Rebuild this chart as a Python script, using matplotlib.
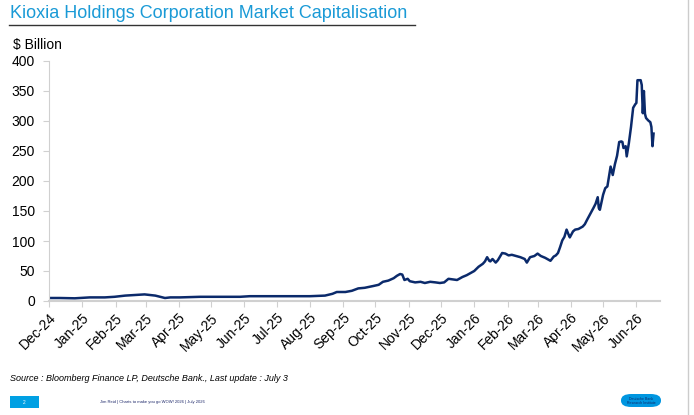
import matplotlib
matplotlib.use("Agg")
import matplotlib.pyplot as plt
from matplotlib.patches import FancyBboxPatch, Rectangle
from matplotlib.lines import Line2D
import datetime as dt

plt.rcParams['font.family'] = ['Liberation Sans', 'DejaVu Sans']

# Data: day offsets from 2024-12-01 and market cap ($ bn)
start = dt.date(2024, 12, 1)
day_offsets = [
    0, 10, 24, 38, 52, 61, 71, 80, 89, 99,
    108, 113, 122, 141, 159, 178, 187, 206, 225, 243,
    257, 264, 268, 276, 282, 288, 294, 302, 307, 311,
    316, 321, 324, 327, 329, 331, 334, 336, 341, 346,
    350, 355, 360, 364, 368, 372, 376, 380, 385, 389,
    392, 396, 400, 404, 406, 408, 410, 411, 413, 416,
    418, 422, 425, 428, 431, 435, 439, 443, 445, 448,
    452, 455, 458, 462, 467, 470, 472, 474, 476, 478,
    480, 482, 484, 485, 488, 490, 493, 497, 499, 501,
    504, 507, 509, 511, 512, 513, 516, 518, 520, 523,
    525, 527, 529, 531, 533, 534, 535, 537, 538, 540,
    542, 544, 546, 547, 548, 551, 552, 553, 554, 555,
    556, 558, 560, 561, 562, 563]
values = [
    5, 5, 4.5, 6, 6, 7, 9, 10, 11, 9,
    5, 6, 6, 7, 7, 7, 8, 8, 8, 8,
    9, 12, 15, 15, 17, 21, 22, 25, 27, 32,
    34, 38, 42, 45, 44, 35, 37, 33, 31, 32,
    30, 32, 31, 30, 31, 37, 36, 35, 40, 43,
    46, 50, 57, 62, 66, 73, 67, 66, 70, 64,
    68, 80, 79, 76, 77, 75, 73, 70, 64, 73,
    75, 79, 75, 72, 67, 74, 76, 80, 90, 101,
    107, 119, 110, 106, 116, 119, 120, 124, 128, 135,
    145, 155, 162, 173, 155, 152, 177, 188, 191, 224,
    210, 228, 242, 265, 266, 265, 255, 258, 241, 263,
    290, 322, 328, 330, 368, 368, 360, 313, 350, 312,
    305, 301, 298, 290, 258, 279]
assert len(day_offsets) == len(values)

tick_labels = ['Dec-24', 'Jan-25', 'Feb-25', 'Mar-25', 'Apr-25', 'May-25', 'Jun-25',
               'Jul-25', 'Aug-25', 'Sep-25', 'Oct-25', 'Nov-25', 'Dec-25', 'Jan-26',
               'Feb-26', 'Mar-26', 'Apr-26', 'May-26', 'Jun-26']

dates = [start + dt.timedelta(days=d) for d in day_offsets]

fig = plt.figure(figsize=(6.94, 4.15), dpi=100)
ax = fig.add_axes([49/694, 1-301/415, (660-49)/694, (301-61)/415])

ax.plot(dates, values, color='#0b2a6b', lw=1.8, solid_joinstyle='round')

tick_dates = []
y, m = 2024, 12
for _ in tick_labels:
    tick_dates.append(dt.date(y, m, 1))
    m += 1
    if m > 12:
        m = 1
        y += 1
ax.set_xticks(tick_dates)
ax.set_xticklabels(tick_labels, rotation=45, ha='right', rotation_mode='anchor', fontsize=10)
ax.set_xlim(start, start + dt.timedelta(days=569))
ax.set_ylim(0, 400)
ax.set_yticks(range(0, 401, 50))
ax.tick_params(axis='y', labelsize=10, length=4, color='#d0d0d0', pad=6)
ax.tick_params(axis='x', length=4, color='#d0d0d0', pad=3)

for s in ['top', 'right']:
    ax.spines[s].set_visible(False)
ax.spines['left'].set_color('#d0d0d0')
ax.spines['bottom'].set_color('#d0d0d0')
ax.spines['bottom'].set_linewidth(1.5)

# Title
fig.text(10/694, 1-14/415, 'Kioxia Holdings Corporation Market Capitalisation',
         color='#1a9ad6', fontsize=13, va='center', ha='left')
fig.add_artist(Line2D([9/694, 415/694], [1-25/415, 1-25/415], color='#333333', lw=1))
fig.text(13/694, 1-45/415, '$ Billion', fontsize=10, va='center', ha='left')

# Source
fig.text(10/694, 1-378/415, 'Source : Bloomberg Finance LP, Deutsche Bank., Last update : July 3',
         fontsize=6.5, style='italic', va='center', ha='left')

# Footer
fig.add_artist(Rectangle((10/694, 1-408/415), 29/694, 12/415, color='#00a0e3', lw=0))
fig.text(24.5/694, 1-402/415, '2', color='white', fontsize=3.5, ha='center', va='center')
fig.text(100/694, 1-402/415, 'Jim Reid | Charts to make you go WOW! 2026 | July 2026',
         fontsize=3, color='#1f2a6b', ha='left', va='center')
fig.add_artist(FancyBboxPatch((621/694, 1-407/415), 40/694, 13/415,
                              boxstyle='round,pad=0,rounding_size=0.015',
                              color='#0096e0', lw=0))
fig.text(641/694, 1-398.5/415, 'Deutsche Bank', fontsize=2.5, color='#0b2a6b', ha='center', va='center')
fig.text(641/694, 1-403/415, 'Research Institute', fontsize=2.5, color='#0b2a6b', ha='center', va='center')
fig.add_artist(Line2D([688/694, 688/694], [0, 1], color='#cccccc', lw=1))

fig.savefig('out.png', dpi=100)
